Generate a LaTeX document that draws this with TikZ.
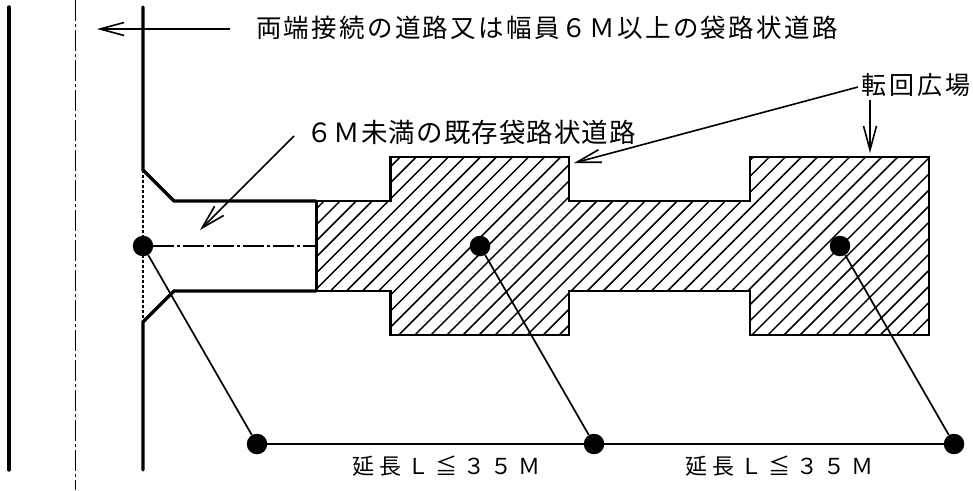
\documentclass[tikz,border=0pt]{standalone}
\usepackage{fontspec}
\newfontfamily\jpsans{Noto Sans CJK JP}
\usetikzlibrary{arrows.meta}
\tikzset{
  thickwall/.style={line width=3.4pt,line cap=round,line join=miter},
  outline/.style={line width=2.4pt,line join=miter},
  thinline/.style={line width=1.7pt},
  hatchline/.style={line width=1.5pt},
  centre/.style={line width=1.6pt,dash pattern=on 21pt off 3pt on 3pt off 3pt},
  stub/.style={line width=1.6pt,dash pattern=on 3pt off 2pt},
  dot/.style={circle,fill=black,inner sep=0pt,minimum size=20.5pt},
  leader/.style={line width=1.6pt,-{Straight Barb[length=24pt,width=13pt,line width=1.6pt]}},
  label/.style={inner sep=0pt,anchor=west,text=black}
}
\begin{document}
\begin{tikzpicture}[x=1pt,y=-1pt]
\useasboundingbox (0,0) rectangle (973,490);
\fill[white] (0,0) rectangle (973,490);
% hatching
\begin{scope}
\clip (316,201) -- (390.5,201) -- (390.5,157) -- (569,157) -- (569,201) -- (750,201) -- (750,157) -- (929,157) -- (929,335) -- (750,335) -- (750,291) -- (569,291) -- (569,335) -- (390.5,335) -- (390.5,291) -- (316,291) -- cycle;
\foreach \k in {-12,...,45} {
  \pgfmathsetmacro{\c}{589.3+\k*16.05}
  \draw[hatchline] (\c-100,100) -- (\c-400,400);
}
\end{scope}
\draw[outline] (316,201) -- (390.5,201) -- (390.5,157) -- (569,157) -- (569,201) -- (750,201) -- (750,157) -- (929,157) -- (929,335) -- (750,335) -- (750,291) -- (569,291) -- (569,335) -- (390.5,335) -- (390.5,291) -- (316,291);
% walls
\draw[thickwall] (9,7) -- (9,470);
\draw[centre] (75.5,0) -- (75.5,490);
\draw[thickwall] (143,7) -- (143,170) -- (174,201) -- (316,201);
\draw[thickwall] (316,291) -- (174,291) -- (143,322) -- (143,470);
\draw[line width=3pt] (316,201) -- (316,291);
% nodes
\node[dot] (d1) at (143,246) {};
\node[dot] (d2) at (480,246) {};
\node[dot] (d3) at (840,246) {};
\node[dot] (b1) at (257,444) {};
\node[dot] (b2) at (594,444) {};
\node[dot] (b3) at (954,444) {};
\coordinate (roadend) at (316,246);
\coordinate (stubtop) at (143,170);
\coordinate (stubbot) at (143,322);
\draw[centre] (d1) -- (roadend);
\draw[stub] (stubtop) -- (stubbot);
\draw[thinline] (d1) -- (b1);
\draw[thinline] (d2) -- (b2);
\draw[thinline] (d3) -- (b3);
\draw[thinline] (b1) -- (b2);
\draw[thinline] (b2) -- (b3);
% labels
\node[label,font=\jpsans\fontsize{25.5}{25.5}\selectfont\addfontfeature{LetterSpace=9}] (t1) at (256,28) {両端接続の道路又は幅員６Ｍ以上の袋路状道路};
\node[label,font=\jpsans\fontsize{26.5}{26.5}\selectfont\addfontfeature{LetterSpace=4}] (t2) at (306,132) {６Ｍ未満の既存袋路状道路};
\node[label,font=\jpsans\fontsize{25}{25}\selectfont\addfontfeature{LetterSpace=12}] (t3) at (861,85) {転回広場};
\node[label,font=\jpsans\fontsize{22}{22}\selectfont\addfontfeature{LetterSpace=26}] (t4) at (352,466) {延長Ｌ≦３５Ｍ};
\node[label,font=\jpsans\fontsize{22}{22}\selectfont\addfontfeature{LetterSpace=26}] (t5) at (685,466) {延長Ｌ≦３５Ｍ};
% leaders
\coordinate (a1s) at (230,29);
\coordinate (a1e) at (97,29);
\coordinate (a2s) at (294,136);
\coordinate (a2e) at (200,230);
\coordinate (a3s) at (858,87);
\coordinate (a3e) at (574,163);
\coordinate (a4s) at (870,100);
\coordinate (a4e) at (870,153);
\draw[leader] (a1s) -- (a1e);
\draw[leader] (a2s) -- (a2e);
\draw[leader] (a3s) -- (a3e);
\draw[leader] (a4s) -- (a4e);
\end{tikzpicture}
\end{document}
